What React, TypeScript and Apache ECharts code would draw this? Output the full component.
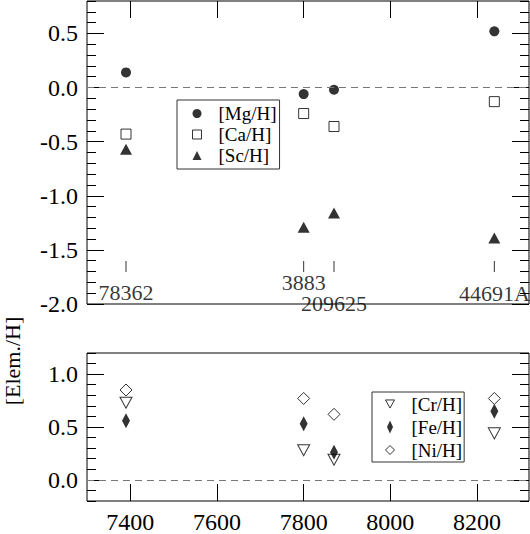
import React, { useEffect, useRef } from "react";
import * as echarts from "echarts";

// ---- data ----
const teff = [7390, 7800, 7870, 8240];
const starNames = ["78362", "3883", "209625", "44691A"];
const mgH = [0.14, -0.06, -0.02, 0.52];
const caH = [-0.43, -0.24, -0.36, -0.13];
const scH = [-0.57, -1.29, -1.16, -1.39];
const crH = [0.73, 0.28, 0.19, 0.44];
const feH = [0.56, 0.53, 0.26, 0.65];
const niH = [0.85, 0.77, 0.62, 0.77];
const xTicks = [7400, 7600, 7800, 8000, 8200];
const topYTicks = [-2, -1.5, -1, -0.5, 0, 0.5];
const bottomYTicks = [0, 0.5, 1];

// ---- layout ----
const STAR_TICK_Y = -1.653;
const starLabelDy = [26, 16, 37, 27];
const FONT = "Liberation Serif";

const xMin = 7300;
const xMax = 8320;

function yAxes(gridIndex: number, min: number, max: number, majors: number[]) {
  const base = {
    type: "value",
    gridIndex,
    min,
    max,
    splitLine: { show: false },
    axisLine: { show: false, onZero: false },
  };
  const labelStyle = {
    fontSize: 24,
    color: "#000",
    fontFamily: FONT,
    margin: 9,
    formatter: (v: number) => v.toFixed(1),
  };
  return [
    {
      ...base,
      position: "left",
      axisTick: { inside: true, length: 17, lineStyle: { color: "#000" }, customValues: majors },
      axisLabel: { ...labelStyle, customValues: majors },
    },
    {
      ...base,
      position: "left",
      interval: 0.1,
      axisTick: { inside: true, length: 9, lineStyle: { color: "#000" } },
      axisLabel: { show: false },
    },
    {
      ...base,
      position: "right",
      axisTick: { inside: true, length: 17, lineStyle: { color: "#000" }, customValues: majors },
      axisLabel: { show: false },
    },
    {
      ...base,
      position: "right",
      interval: 0.1,
      axisTick: { inside: true, length: 9, lineStyle: { color: "#000" } },
      axisLabel: { show: false },
    },
  ];
}

const zeroLine = () => ({
  silent: true,
  symbol: "none",
  label: { show: false },
  lineStyle: { color: "#777", type: [7, 5], width: 1 },
  data: [{ yAxis: 0 }],
});

const pts = (ys: number[]) => teff.map((x, i) => [x, ys[i]]);

export default function App() {
  const ref = useRef<HTMLDivElement>(null);
  useEffect(() => {
    if (!ref.current) return;
    const chart = echarts.init(ref.current, null, { renderer: "svg" });
    const option: any = {
      animation: false,
      backgroundColor: "#fff",
      textStyle: { fontFamily: FONT },
      grid: [
        { left: 87, top: 1, width: 442, height: 303, show: true, borderColor: "#000", borderWidth: 1, backgroundColor: "transparent" },
        { left: 87, top: 353, width: 442, height: 153, show: true, borderColor: "#000", borderWidth: 1, backgroundColor: "transparent" },
      ],
      xAxis: [
        {
          type: "value",
          gridIndex: 0,
          position: "top",
          min: xMin,
          max: xMax,
          splitLine: { show: false },
          axisLine: { show: false, onZero: false },
          axisTick: { inside: true, length: 17, lineStyle: { color: "#000" }, customValues: xTicks },
          axisLabel: { show: false },
        },
        {
          type: "value",
          gridIndex: 1,
          position: "bottom",
          min: xMin,
          max: xMax,
          splitLine: { show: false },
          axisLine: { show: false, onZero: false },
          axisTick: { inside: true, length: 17, lineStyle: { color: "#000" }, customValues: xTicks },
          axisLabel: {
            fontSize: 24,
            color: "#000",
            fontFamily: FONT,
            margin: 9,
            customValues: xTicks,
            formatter: (v: number) => String(v),
          },
        },
      ],
      yAxis: [...yAxes(0, -2, 0.8, topYTicks), ...yAxes(1, -0.2, 1.2, bottomYTicks)],
      legend: [
        {
          data: ["[Mg/H]", "[Ca/H]", "[Sc/H]"],
          orient: "vertical",
          left: 177,
          top: 100,
          itemWidth: 9,
          itemHeight: 9,
          itemGap: 0,
          padding: [3, 3, 3, 15],
          borderColor: "#333",
          borderWidth: 1,
          selectedMode: false,
          itemStyle: { borderWidth: 1 },
          textStyle: { fontSize: 19, lineHeight: 21, color: "#000", fontFamily: FONT, padding: [0, 0, 0, 12] },
        },
        {
          data: [
            { name: "[Cr/H]", icon: "path://M0,0L10,0L5,9Z" },
            { name: "[Fe/H]", icon: "path://M3,0L6,6.5L3,13L0,6.5Z" },
            { name: "[Ni/H]", icon: "path://M4.5,0L9,4.5L4.5,9L0,4.5Z" },
          ],
          orient: "vertical",
          left: 372,
          top: 392,
          itemWidth: 9,
          itemHeight: 13,
          itemGap: 1,
          padding: [1, 2, 1, 13],
          borderColor: "#333",
          borderWidth: 1,
          selectedMode: false,
          symbolKeepAspect: true,
          itemStyle: { borderWidth: 1 },
          textStyle: { fontSize: 19, lineHeight: 22, color: "#000", fontFamily: FONT, padding: [0, 0, 0, 12] },
        },
      ],
      series: [
        {
          name: "[Mg/H]",
          type: "scatter",
          xAxisIndex: 0,
          yAxisIndex: 0,
          symbol: "circle",
          symbolSize: 10,
          itemStyle: { color: "#000" },
          data: pts(mgH),
          markLine: zeroLine(),
        },
        {
          name: "[Ca/H]",
          type: "scatter",
          xAxisIndex: 0,
          yAxisIndex: 0,
          symbol: "rect",
          symbolSize: 10,
          itemStyle: { color: "#fff", borderColor: "#000", borderWidth: 1 },
          data: pts(caH),
        },
        {
          name: "[Sc/H]",
          type: "scatter",
          xAxisIndex: 0,
          yAxisIndex: 0,
          symbol: "triangle",
          symbolSize: [12, 11],
          itemStyle: { color: "#000" },
          data: pts(scH),
        },
        {
          name: "stars",
          type: "scatter",
          xAxisIndex: 0,
          yAxisIndex: 0,
          symbol: "rect",
          symbolSize: [1, 11],
          itemStyle: { color: "#000" },
          label: {
            show: true,
            position: "inside",
            formatter: "{b}",
            fontSize: 22,
            color: "#000",
            fontFamily: FONT,
          },
          data: starNames.map((n, i) => ({
            name: n,
            value: [teff[i], STAR_TICK_Y],
            label: { offset: [0, starLabelDy[i]] },
          })),
        },
        {
          name: "[Cr/H]",
          type: "scatter",
          xAxisIndex: 1,
          yAxisIndex: 4,
          symbol: "path://M0,0L12,0L6,11Z",
          symbolSize: [12, 11],
          itemStyle: { color: "#fff", borderColor: "#000", borderWidth: 1 },
          data: pts(crH),
          markLine: zeroLine(),
        },
        {
          name: "[Fe/H]",
          type: "scatter",
          xAxisIndex: 1,
          yAxisIndex: 4,
          symbol: "path://M4,0L8,7.5L4,15L0,7.5Z",
          symbolSize: [8, 15],
          itemStyle: { color: "#000" },
          data: pts(feH),
        },
        {
          name: "[Ni/H]",
          type: "scatter",
          xAxisIndex: 1,
          yAxisIndex: 4,
          symbol: "diamond",
          symbolSize: 12,
          itemStyle: { color: "#fff", borderColor: "#000", borderWidth: 1 },
          data: pts(niH),
        },
      ],
      graphic: [
        {
          type: "text",
          x: 12,
          y: 361,
          rotation: Math.PI / 2,
          style: {
            text: "[Elem./H]",
            fontSize: 22,
            fontFamily: FONT,
            fill: "#000",
            align: "center",
            verticalAlign: "middle",
          },
        },
      ],
    };
    chart.setOption(option);
    return () => chart.dispose();
  }, []);
  return (
    <div
      ref={ref}
      style={{ position: "fixed", left: 0, top: 0, width: 530, height: 534, background: "#fff" }}
    />
  );
}
